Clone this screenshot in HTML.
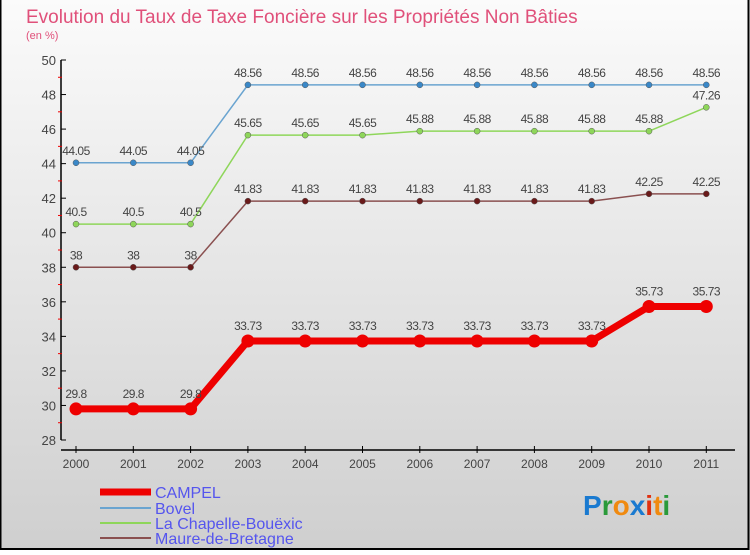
<!DOCTYPE html>
<html><head><meta charset="utf-8"><style>
body{margin:0;width:750px;height:550px;overflow:hidden;font-family:"Liberation Sans",sans-serif}
</style></head><body>
<svg width="750" height="550" xmlns="http://www.w3.org/2000/svg">
<defs><linearGradient id="bg" x1="0" y1="0" x2="0" y2="1"><stop offset="0" stop-color="#fbfbfb"/><stop offset="1" stop-color="#cfcfcf"/></linearGradient></defs>
<rect x="0" y="0" width="750" height="550" fill="url(#bg)"/>
<rect x="0.5" y="-2" width="748" height="551" fill="none" stroke="#000" stroke-width="2"/>
<text x="26" y="23" font-size="19" fill="#e0507a">Evolution du Taux de Taxe Foncière sur les Propriétés Non Bâties</text>
<text x="26" y="39" font-size="11" fill="#e0507a">(en %)</text>
<g id="axes"></g>
<g id="series"></g>
<g id="legend"></g>
<g font-size="28" font-weight="bold">
<text x="583" y="515"><tspan fill="#1a7ad0">P</tspan><tspan fill="#2a9a3a">r</tspan><tspan fill="#f08a10">o</tspan><tspan fill="#1a7ad0">x</tspan><tspan fill="#e03010">i</tspan><tspan fill="#f08a10">t</tspan><tspan fill="#2a9a3a">i</tspan></text>
</g>
</svg>
<script>
const years=["2000","2001","2002","2003","2004","2005","2006","2007","2008","2009","2010","2011"];
const campel=[29.8,29.8,29.8,33.73,33.73,33.73,33.73,33.73,33.73,33.73,35.73,35.73];
const bovel=[44.05,44.05,44.05,48.56,48.56,48.56,48.56,48.56,48.56,48.56,48.56,48.56];
const chapelle=[40.5,40.5,40.5,45.65,45.65,45.65,45.88,45.88,45.88,45.88,45.88,47.26];
const maure=[38,38,38,41.83,41.83,41.83,41.83,41.83,41.83,41.83,42.25,42.25];
const yTicks=[28,30,32,34,36,38,40,42,44,46,48,50];
const NS="http://www.w3.org/2000/svg";
const X=i=>76+i*57.3;
const Y=v=>440-(v-28)*(380/22);
function mk(tag,attrs,parent,txt){const e=document.createElementNS(NS,tag);for(const k in attrs)e.setAttribute(k,attrs[k]);if(txt!==undefined)e.textContent=txt;parent.appendChild(e);return e;}
const ax=document.getElementById('axes');
let e=mk('line',{x1:61,y1:60,x2:61,y2:440,stroke:'#000','stroke-width':1.5},ax);

e=mk('line',{x1:61,y1:450,x2:735,y2:450,stroke:'#000','stroke-width':1.5},ax);

yTicks.forEach(t=>{
 mk('line',{x1:61,y1:Y(t),x2:66,y2:Y(t),stroke:'#000'},ax);
 if(t<50)mk('line',{x1:58,y1:Y(t+1),x2:62,y2:Y(t+1),stroke:'#e00'},ax);
 e=mk('text',{x:56,y:Y(t)+5,'font-size':13,fill:'#444','text-anchor':'end'},ax,t);
 
});
years.forEach((y,i)=>{
 mk('line',{x1:X(i),y1:446,x2:X(i),y2:453,stroke:'#000'},ax);
 e=mk('text',{x:X(i),y:468,'font-size':12,fill:'#444','text-anchor':'middle'},ax,y);
 
});
const sg=document.getElementById('series');
const defs=[
 {n:'maure',d:maure,c:'#8a5050',p:'#6a1a1a',w:1.5,r:3},
 {n:'chapelle',d:chapelle,c:'#8ed65a',p:'#8ed65a',w:1.5,r:3},
 {n:'bovel',d:bovel,c:'#6aa4d0',p:'#3a88c8',w:1.5,r:3},
 {n:'campel',d:campel,c:'#ee0000',p:'#ee0000',w:7,r:6.5}];
defs.forEach(s=>{
 const g=mk('g',{},sg);
 
 const pl=mk('polyline',{points:s.d.map((v,i)=>X(i)+','+Y(v)).join(' '),fill:'none',stroke:s.c,'stroke-width':s.w},g);
 
 s.d.forEach((v,i)=>{
  const c=mk('circle',{cx:X(i),cy:Y(v),r:s.r,fill:s.p,stroke:s.n=='campel'?'none':'#555','stroke-width':0.5},g);
  
  const t=mk('text',{x:X(i),y:Y(v)-(s.n=='campel'?11:8),'font-size':12,fill:'#444','text-anchor':'middle','letter-spacing':'-0.5'},g,String(v));
  
 });
});
const lg=document.getElementById('legend');
[['CAMPEL','#ee0000',7,492],['Bovel','#6aa4d0',2,508],['La Chapelle-Bouëxic','#8ed65a',2,523],['Maure-de-Bretagne','#8a5050',2,538]].forEach(([n,c,w,y])=>{
 const g=mk('g',{},lg);
 
 mk('line',{x1:100,y1:y,x2:151,y2:y,stroke:c,'stroke-width':w},g);
 mk('text',{x:155,y:y+6,'font-size':16,fill:'#5555ee'},g,n);
});
</script>
</body></html>
